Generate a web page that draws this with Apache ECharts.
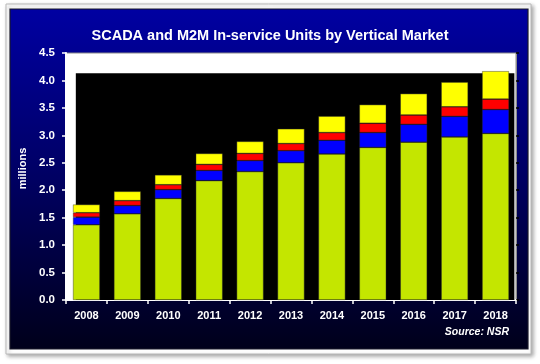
<!DOCTYPE html>
<html>
<head>
<meta charset="utf-8">
<style>
html,body{margin:0;padding:0;background:#fff;}
#c{width:540px;height:364px;}
</style>
<script src="https://cdn.jsdelivr.net/npm/echarts@6/dist/echarts.min.js"></script>
</head>
<body>
<div id="c"></div>
<script>
var years = ['2008','2009','2010','2011','2012','2013','2014','2015','2016','2017','2018'];
var seriesGreen  = [1.37, 1.57, 1.85, 2.175, 2.34, 2.50, 2.66, 2.78, 2.875, 2.97, 3.035];
var seriesBlue   = [0.14, 0.15, 0.16, 0.185, 0.20, 0.22, 0.25, 0.27, 0.325, 0.375, 0.435];
var seriesRed    = [0.08, 0.09, 0.09, 0.11, 0.13, 0.13, 0.14, 0.17, 0.17, 0.175, 0.19];
var seriesYellow = [0.15, 0.17, 0.18, 0.20, 0.22, 0.27, 0.30, 0.34, 0.39, 0.45, 0.51];
var yTicks = [0, 0.5, 1.0, 1.5, 2.0, 2.5, 3.0, 3.5, 4.0, 4.5];
var blackTop = 4.13;

var FONT = 'Liberation Sans';
var chart = echarts.init(document.getElementById('c'), null, {renderer: 'canvas'});

function barSeries(name, data, color) {
  return {
    name: name, type: 'bar', stack: 'total', data: data,
    barWidth: 27,
    itemStyle: {color: color, borderColor: 'rgba(40,40,40,0.7)', borderWidth: 0.6},
    z: 3
  };
}

var option = {
  backgroundColor: 'transparent',
  animation: false,
  graphic: [
    {type: 'rect', z: -20, shape: {x: 6, y: 4, width: 525, height: 350},
     style: {fill: '#fff', stroke: '#b8b8b8', lineWidth: 1, shadowBlur: 4, shadowOffsetX: 2, shadowOffsetY: 2, shadowColor: 'rgba(0,0,0,0.35)'}},
    {type: 'rect', z: -19, shape: {x: 10, y: 9, width: 518, height: 340},
     style: {
       fill: new echarts.graphic.LinearGradient(0, 0, 0, 1, [
         {offset: 0, color: '#0000a2'},
         {offset: 0.5, color: '#000062'},
         {offset: 1, color: '#00001a'}
       ]),
       stroke: '#1a1a2a', lineWidth: 1.2
     }},
    {type: 'text', right: 31, top: 327, z: 10,
     style: {text: 'Source: NSR', fill: '#fff', font: 'italic bold 10.5px ' + FONT}}
  ],
  title: {
    text: 'SCADA and M2M In-service Units by Vertical Market',
    left: 'center', top: 23,
    textStyle: {color: '#fff', fontFamily: FONT, fontWeight: 'bold', fontSize: 14.5}
  },
  grid: {
    left: 66, right: 24, top: 53, bottom: 64,
    show: true, backgroundColor: '#fff', borderColor: '#8a8a8a', borderWidth: 1
  },
  xAxis: [
    {
      type: 'category', data: years,
      axisLine: {lineStyle: {color: '#fff', width: 2}},
      axisTick: {show: true, length: 4, lineStyle: {color: '#fff', width: 1.5}},
      axisLabel: {color: '#fff', fontFamily: FONT, fontWeight: 'bold', fontSize: 11, margin: 10}
    },
    {
      type: 'value', min: 0, max: years.length, show: false
    }
  ],
  yAxis: [
    {
      type: 'value', min: 0, max: 4.5, interval: 0.5,
      name: 'millions', nameLocation: 'middle', nameGap: 37,
      nameTextStyle: {color: '#fff', fontFamily: FONT, fontWeight: 'bold', fontSize: 11, padding: [0, 0, 0, 16]},
      axisLine: {show: true, lineStyle: {color: '#fff', width: 2}},
      axisTick: {show: true, length: 4, lineStyle: {color: '#fff', width: 1.5}},
      splitLine: {show: false},
      axisLabel: {color: '#fff', fontFamily: FONT, fontWeight: 'bold', fontSize: 11.5, margin: 11,
        formatter: function (v) { return yTicks.indexOf(v) >= 0 ? v.toFixed(1) : ''; }}
    },
    {
      type: 'value', min: 0, max: 4.5, interval: 0.5, position: 'right',
      axisLine: {show: true, lineStyle: {color: '#8a8a8a', width: 1}},
      axisTick: {show: true, length: 3, lineStyle: {color: '#000', width: 1.5}},
      axisLabel: {show: false},
      splitLine: {show: false}
    }
  ],
  series: [
    {
      name: 'background', type: 'line', xAxisIndex: 1, yAxisIndex: 0,
      data: [[0, 0]], symbol: 'none', lineStyle: {opacity: 0}, silent: true, z: 1,
      markArea: {
        silent: true,
        itemStyle: {color: '#000'},
        data: [[{xAxis: 0.24, yAxis: 0}, {xAxis: 10.96, yAxis: blackTop}]]
      }
    },
    barSeries('Series 1', seriesGreen, '#c4e600'),
    barSeries('Series 2', seriesBlue, '#0000ff'),
    barSeries('Series 3', seriesRed, '#ff0000'),
    barSeries('Series 4', seriesYellow, '#ffff00')
  ]
};
chart.setOption(option);
</script>
</body>
</html>
